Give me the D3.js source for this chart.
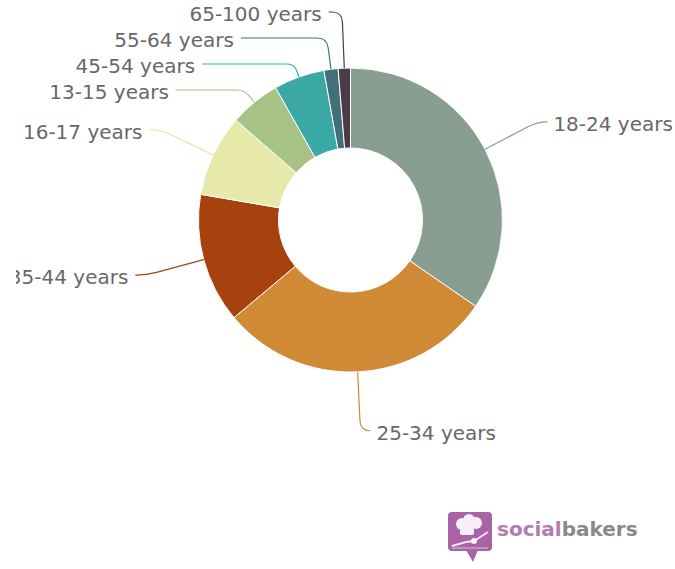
<!DOCTYPE html>
<html>
<head>
<meta charset="utf-8">
<script src="https://cdn.jsdelivr.net/npm/d3@7"></script>
<style>
  html, body { margin: 0; padding: 0; background: #fff; }
  svg { display: block; }
</style>
</head>
<body>
<svg id="chart" width="675" height="569"></svg>
<script>
// ---- data ----
const categories = ["18-24 years", "25-34 years", "35-44 years", "16-17 years",
                    "13-15 years", "45-54 years", "55-64 years", "65-100 years"];
const shares = [34.6, 29.3, 13.8, 8.7, 5.4, 5.4, 1.5, 1.3];
const sliceColors = ["#879e90", "#d08935", "#a7420f", "#e7e9aa",
                     "#a6c285", "#3aa9a6", "#41707a", "#4b3b46"];

// ---- layout ----
const W = 675, H = 569;
const cx = 350.5, cy = 220;
const rOuter = 152, rInner = 72;
const labelR = 211;          // natural label radius
const ellX = 223, ellY = 209; // label x-placement ellipse
const minGap = 26, minTop = 12;

const svg = d3.select("#chart");
const g = svg.append("g").attr("transform", `translate(${cx},${cy})`);

const color = d3.scaleOrdinal().domain(categories).range(sliceColors);
const pie = d3.pie().sort(null).value(d => d.value);
const data = categories.map((c, i) => ({ name: c, value: shares[i] }));
const arcs = pie(data);
const arcGen = d3.arc().innerRadius(rInner).outerRadius(rOuter);

g.selectAll("path.slice").data(arcs).join("path")
  .attr("class", "slice")
  .attr("d", arcGen)
  .attr("fill", d => color(d.data.name))
  .attr("stroke", "#ffffff")
  .attr("stroke-width", 1)
  .attr("stroke-linejoin", "round");

// ---- label placement (distribute vertically per side) ----
arcs.forEach(a => {
  a.mid = (a.startAngle + a.endAngle) / 2;
  a.left = Math.sin(a.mid) < 0;
  a.ny = cy - labelR * Math.cos(a.mid);
});
["L", "R"].forEach(side => {
  const list = arcs.filter(a => (side === "L") === a.left).sort((p, q) => p.ny - q.ny);
  let prev = -Infinity;
  list.forEach(a => {
    a.ly = Math.max(a.ny, minTop, prev + minGap);
    prev = a.ly;
  });
});
arcs.forEach(a => {
  const dy = a.ly - cy;
  const f = Math.max(0, 1 - (dy / ellY) * (dy / ellY));
  const dx = ellX * Math.sqrt(f);
  const s = Math.sin(a.mid), c = Math.cos(a.mid);
  let t = Math.abs(c) > 0.2 ? (cy - a.ly) / c : labelR;
  t = Math.max(t, rOuter + 8);
  a.E = [cx + t * s, a.ly];
  a.T = [cx + rOuter * s, cy - rOuter * c];
  let sx = cx + (a.left ? -dx : dx);
  if (a.left) sx = Math.min(sx, a.E[0] - 10); else sx = Math.max(sx, a.E[0] + 10);
  a.S = [sx, a.ly];
});

const labels = svg.append("g").attr("clip-path", "url(#labelClip)");
svg.append("clipPath").attr("id", "labelClip")
  .append("rect").attr("x", 16).attr("y", 0).attr("width", W - 16).attr("height", H);

labels.selectAll("path.conn").data(arcs).join("path")
  .attr("class", "conn")
  .attr("fill", "none")
  .attr("stroke", d => color(d.data.name))
  .attr("stroke-width", 1.2)
  .attr("d", a => {
    const [Sx, Sy] = a.S, [Ex, Ey] = a.E, [Tx, Ty] = a.T;
    const hLen = Math.abs(Ex - Sx);
    const seg = Math.hypot(Tx - Ex, Ty - Ey);
    const rc = Math.min(10, hLen, seg / 2);
    const dir = Sx < Ex ? 1 : -1;
    const p1 = [Ex - dir * rc, Ey];
    const p2 = [Ex + (Tx - Ex) / seg * rc, Ey + (Ty - Ey) / seg * rc];
    const p = d3.path();
    p.moveTo(Sx, Sy);
    p.lineTo(p1[0], p1[1]);
    p.quadraticCurveTo(Ex, Ey, p2[0], p2[1]);
    p.lineTo(Tx, Ty);
    return p.toString();
  });

labels.selectAll("text.lbl").data(arcs).join("text")
  .attr("class", "lbl")
  .attr("x", a => a.S[0] + (a.left ? -7 : 6))
  .attr("y", a => a.ly)
  .attr("dy", "0.45em")
  .attr("text-anchor", a => a.left ? "end" : "start")
  .attr("font-family", "DejaVu Sans, sans-serif")
  .attr("font-size", 20)
  .attr("fill", "#686868")
  .text(a => a.data.name);

// ---- socialbakers logo ----
const logo = svg.append("g").attr("transform", "translate(448,512)");
const purple = "#a864a5";
logo.append("rect").attr("x", 0).attr("y", 0).attr("width", 44).attr("height", 39)
  .attr("rx", 4).attr("fill", purple);
logo.append("path").attr("d", "M18,38 L30,38 L25,50 Z").attr("fill", purple);
const cloud = logo.append("g").attr("fill", "#ffffff").attr("opacity", 0.9);
[[14, 12, 6], [21, 8, 6], [28, 11, 6], [20, 15, 6]].forEach(([x, y, r]) =>
  cloud.append("circle").attr("cx", x).attr("cy", y).attr("r", r));
cloud.append("rect").attr("x", 12).attr("y", 16).attr("width", 14).attr("height", 7).attr("rx", 2);
logo.append("path").attr("d", "M4,34 L18,30 L26,29 L40,20")
  .attr("fill", "none").attr("stroke", "#ffffff").attr("stroke-width", 2).attr("opacity", 0.85);
logo.append("circle").attr("cx", 26).attr("cy", 29).attr("r", 3).attr("fill", "#ffffff").attr("opacity", 0.9);
logo.append("path").attr("d", "M4,36 L40,36").attr("stroke", "#ffffff").attr("stroke-width", 1).attr("opacity", 0.6);

const logoText = svg.append("text")
  .attr("x", 497).attr("y", 536)
  .attr("font-family", "DejaVu Sans, sans-serif")
  .attr("font-weight", "bold")
  .attr("font-size", 20);
logoText.append("tspan").attr("fill", "#b57bb3").text("social");
logoText.append("tspan").attr("fill", "#8a8a8a").text("bakers");
</script>
</body>
</html>
